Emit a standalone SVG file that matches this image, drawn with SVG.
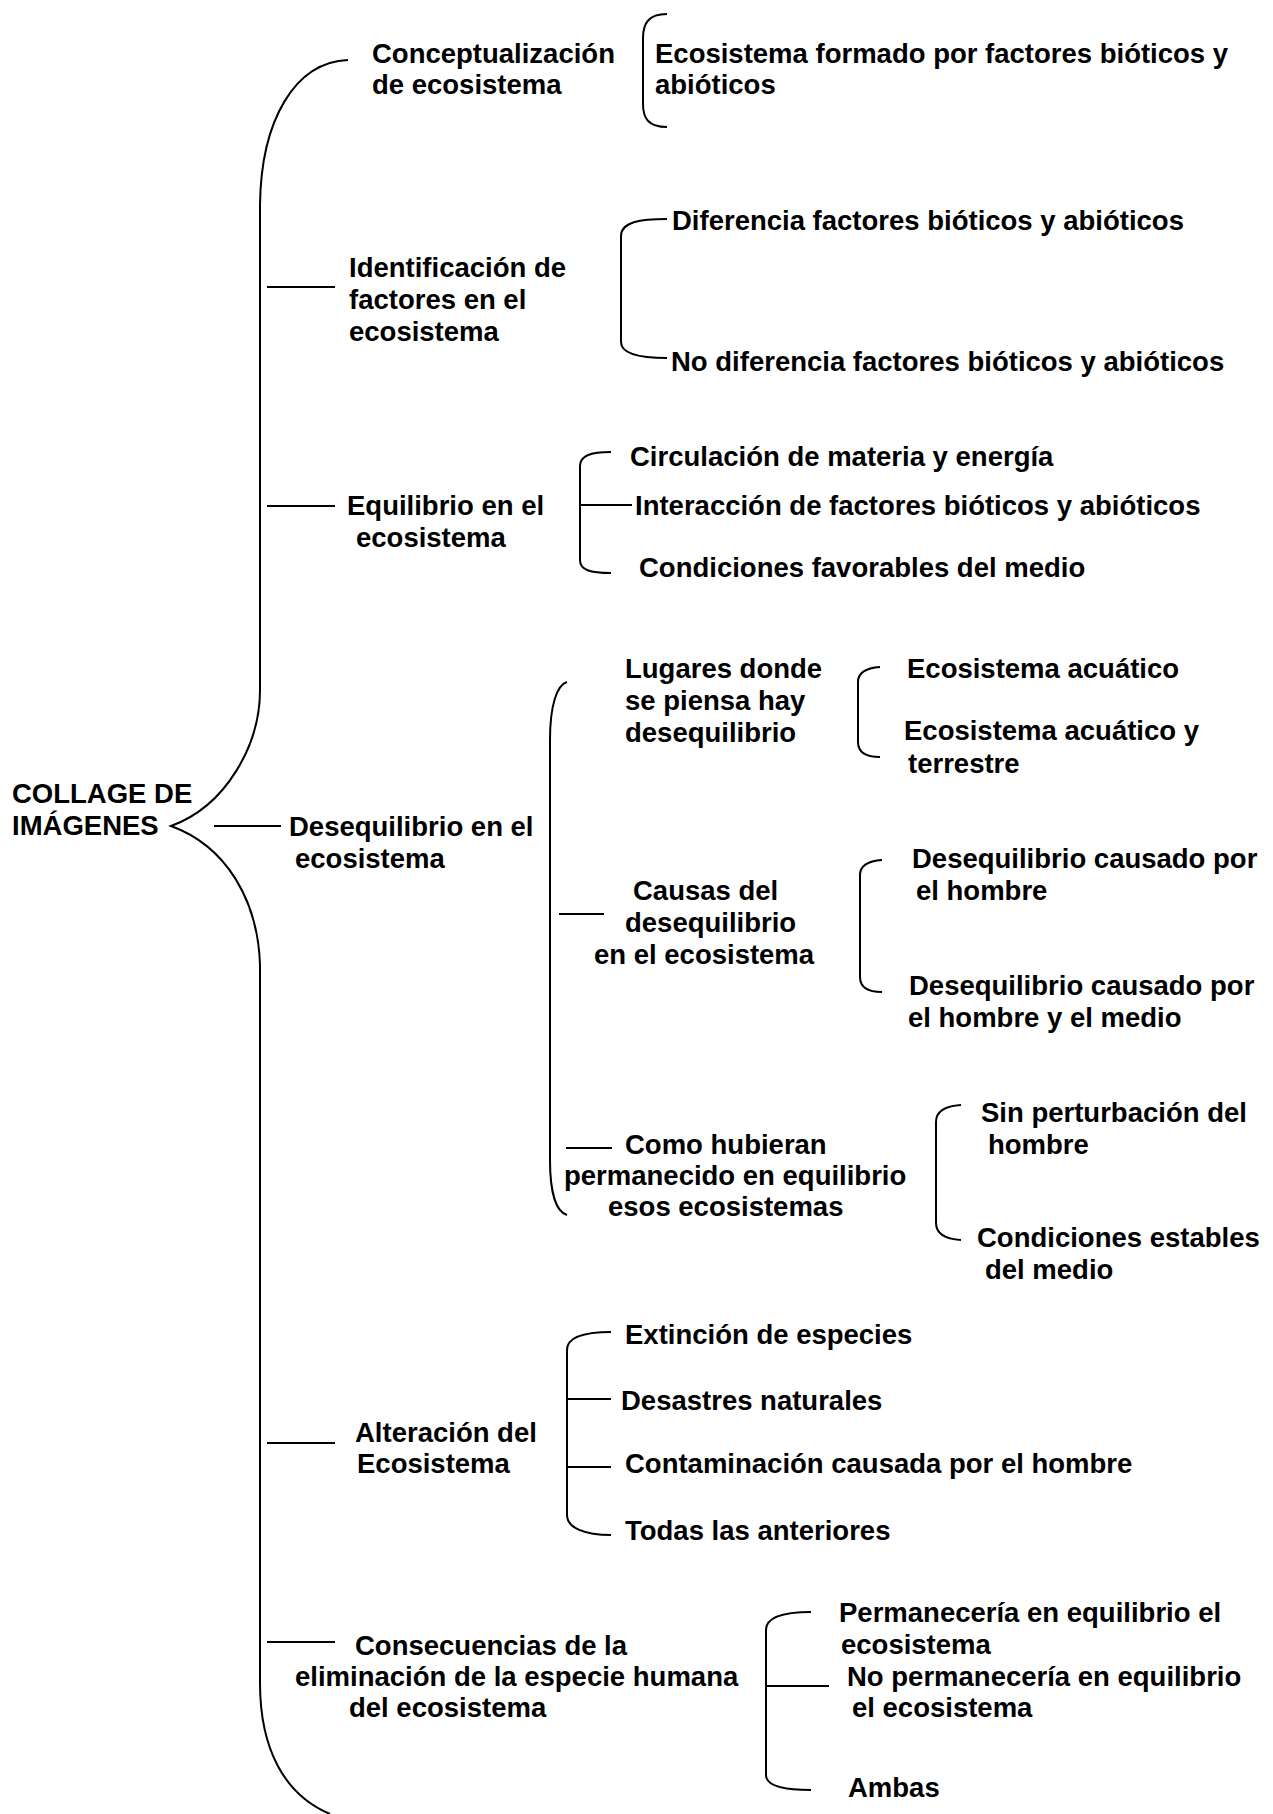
<svg xmlns="http://www.w3.org/2000/svg" width="1273" height="1814" viewBox="0 0 1273 1814">
<style>
.t{font-family:"Liberation Sans",Arial,sans-serif;font-weight:bold;font-size:27.5px;fill:#000}
.c{fill:none;stroke:#000;stroke-width:2}
</style>
<rect width="1273" height="1814" fill="#fff"/>
<g id="connectors">
<path class="c" d="M348,60 C295,62 261,120 260,205 L260,690 C260,745 226,806 171,826 C226,846 258,900 260,965 L260,1683 C260,1750 285,1795 330,1814"/>
<line class="c" x1="267" y1="287" x2="335" y2="287"/>
<line class="c" x1="267" y1="506" x2="335" y2="506"/>
<line class="c" x1="214" y1="826" x2="281" y2="826"/>
<line class="c" x1="267" y1="1443" x2="335" y2="1443"/>
<line class="c" x1="267" y1="1642" x2="335" y2="1642"/>
<path class="c" d="M667,14 C648,14 643,24 643,38 L643,104 C643,118 648,127 667,127"/>
<path class="c" d="M667,219 C640,219 621,222 621,236 L621,342 C621,354 640,358 667,358"/>
<path class="c" d="M611,452 C590,452 580,456 580,466 L580,560 C580,570 590,573 611,573"/>
<line class="c" x1="581" y1="505" x2="632" y2="505"/>
<path class="c" d="M567,682 C557,685 550,705 550,740 L550,1160 C550,1195 557,1212 567,1215"/>
<line class="c" x1="559" y1="914" x2="604" y2="914"/>
<line class="c" x1="566" y1="1148" x2="612" y2="1148"/>
<path class="c" d="M880,667 C866,668 858,672 858,682 L858,742 C858,752 866,757 880,757"/>
<path class="c" d="M882,860 C868,861 860,865 860,875 L860,977 C860,987 868,992 882,992"/>
<path class="c" d="M961,1105 C945,1106 936,1111 936,1122 L936,1223 C936,1234 945,1239 961,1240"/>
<path class="c" d="M611,1332 C585,1332 567,1337 567,1350 L567,1515 C567,1528 585,1535 611,1535"/>
<line class="c" x1="567" y1="1399" x2="611" y2="1399"/>
<line class="c" x1="567" y1="1467" x2="611" y2="1467"/>
<path class="c" d="M811,1612 C785,1612 766,1617 766,1630 L766,1775 C766,1786 785,1790 811,1790"/>
<line class="c" x1="766" y1="1686" x2="829" y2="1686"/>
</g>
<g id="root"><text class="t" x="12" y="803">COLLAGE DE</text><text class="t" x="12" y="835">IMÁGENES</text></g>
<g id="n1"><text class="t" x="372" y="63">Conceptualización</text><text class="t" x="372" y="94">de ecosistema</text></g>
<g id="n1a"><text class="t" x="655" y="63">Ecosistema formado por factores bióticos y</text><text class="t" x="655" y="94">abióticos</text></g>
<g id="n2"><text class="t" x="349" y="277">Identificación de</text><text class="t" x="349" y="309">factores en el</text><text class="t" x="349" y="341">ecosistema</text></g>
<g id="n2a"><text class="t" x="672" y="230">Diferencia factores bióticos y abióticos</text></g>
<g id="n2b"><text class="t" x="671" y="371">No diferencia factores bióticos y abióticos</text></g>
<g id="n3"><text class="t" x="347" y="515">Equilibrio en el</text><text class="t" x="356" y="547">ecosistema</text></g>
<g id="n3a"><text class="t" x="630" y="466">Circulación de materia y energía</text></g>
<g id="n3b"><text class="t" x="635" y="515">Interacción de factores bióticos y abióticos</text></g>
<g id="n3c"><text class="t" x="639" y="577">Condiciones favorables del medio</text></g>
<g id="n4"><text class="t" x="289" y="836">Desequilibrio en el</text><text class="t" x="295" y="868">ecosistema</text></g>
<g id="n4a"><text class="t" x="625" y="678">Lugares donde</text><text class="t" x="625" y="710">se piensa hay</text><text class="t" x="625" y="742">desequilibrio</text></g>
<g id="n4a1"><text class="t" x="907" y="678">Ecosistema acuático</text></g>
<g id="n4a2"><text class="t" x="904" y="740">Ecosistema acuático y</text><text class="t" x="908" y="773">terrestre</text></g>
<g id="n4b"><text class="t" x="633" y="900">Causas del</text><text class="t" x="625" y="932">desequilibrio</text><text class="t" x="594" y="964">en el ecosistema</text></g>
<g id="n4b1"><text class="t" x="912" y="868">Desequilibrio causado por</text><text class="t" x="916" y="900">el hombre</text></g>
<g id="n4b2"><text class="t" x="909" y="995">Desequilibrio causado por</text><text class="t" x="908" y="1027">el hombre y el medio</text></g>
<g id="n4c"><text class="t" x="625" y="1154">Como hubieran</text><text class="t" x="564" y="1185">permanecido en equilibrio</text><text class="t" x="608" y="1216">esos ecosistemas</text></g>
<g id="n4c1"><text class="t" x="981" y="1122">Sin perturbación del</text><text class="t" x="988" y="1154">hombre</text></g>
<g id="n4c2"><text class="t" x="977" y="1247">Condiciones estables</text><text class="t" x="985" y="1279">del medio</text></g>
<g id="n5"><text class="t" x="355" y="1442">Alteración del</text><text class="t" x="357" y="1473">Ecosistema</text></g>
<g id="n5a"><text class="t" x="625" y="1344">Extinción de especies</text></g>
<g id="n5b"><text class="t" x="621" y="1410">Desastres naturales</text></g>
<g id="n5c"><text class="t" x="625" y="1473">Contaminación causada por el hombre</text></g>
<g id="n5d"><text class="t" x="625" y="1540">Todas las anteriores</text></g>
<g id="n6"><text class="t" x="355" y="1655">Consecuencias de la</text><text class="t" x="295" y="1686">eliminación de la especie humana</text><text class="t" x="349" y="1717">del ecosistema</text></g>
<g id="n6a"><text class="t" x="839" y="1622">Permanecería en equilibrio el</text><text class="t" x="841" y="1654">ecosistema</text></g>
<g id="n6b"><text class="t" x="847" y="1686">No permanecería en equilibrio</text><text class="t" x="852" y="1717">el ecosistema</text></g>
<g id="n6c"><text class="t" x="848" y="1797">Ambas</text></g>
</svg>
